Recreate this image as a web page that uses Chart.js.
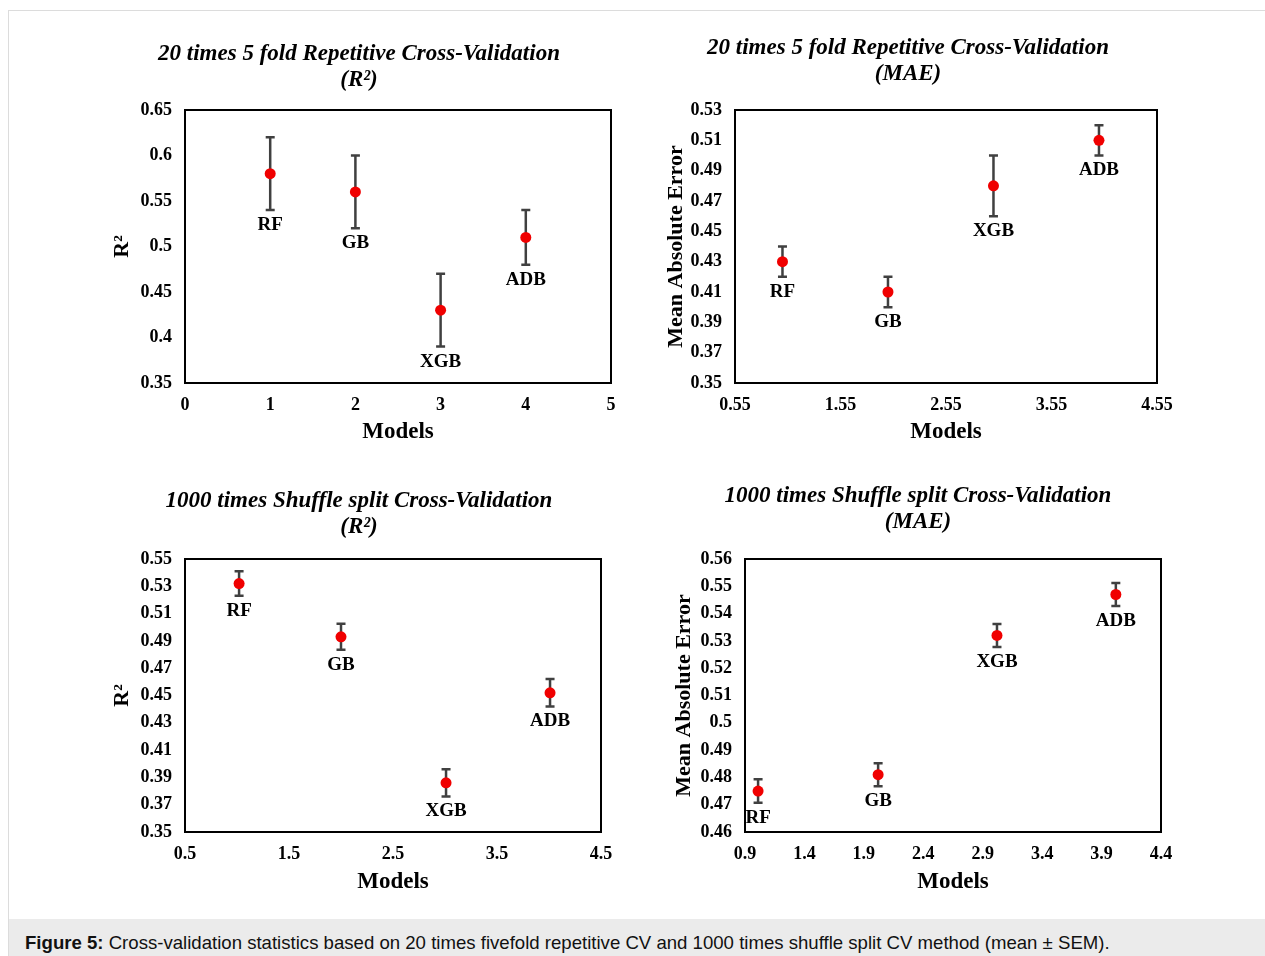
<!DOCTYPE html>
<html lang="en">

<head>
    <title>Figure 5</title>
    <meta charset="utf-8" />
    <script src="https://cdn.jsdelivr.net/npm/chart.js"></script>
    <style>
        body { margin: 0; background: #fff; }
        #page { position: relative; width: 1265px; height: 956px; overflow: hidden; background: #fff; }
        #frame { position: absolute; left: 8px; top: 10px; width: 1257px; height: 946px; box-sizing: border-box;
                 border-top: 1px solid #dcdcdc; border-left: 1px solid #dcdcdc; }
        canvas { position: absolute; }
        #caption { position: absolute; left: 9px; top: 919px; width: 1256px; height: 37px; background: #ebebeb; }
        #caption span { position: absolute; left: 16px; top: 14px; line-height: 20px; white-space: nowrap;
                        font-family: "Liberation Sans", Arial, sans-serif; font-size: 18.6px; color: #111; }
    </style>
</head>

<body>
    <div id="page">
        <div id="frame"></div>
        <canvas id="c1"></canvas>
        <canvas id="c2"></canvas>
        <canvas id="c3"></canvas>
        <canvas id="c4"></canvas>
        <div id="caption"><span><b>Figure 5:</b> Cross-validation statistics based on 20 times fivefold repetitive CV and 1000 times shuffle split CV method (mean ± SEM).</span></div>
    </div>

    <script>
        // data
        const models = ["RF", "GB", "XGB", "ADB"];

        // 20 times 5 fold repetitive CV
        const cvX = [1, 2, 3, 4];
        const cvR2 = [0.58, 0.56, 0.43, 0.51];
        const cvR2Err = [0.04, 0.04, 0.04, 0.03];
        const cvMae = [0.43, 0.41, 0.48, 0.51];
        const cvMaeErr = [0.01, 0.01, 0.02, 0.01];

        // 1000 times shuffle split CV
        const ssR2X = [1.02, 2.0, 3.01, 4.01];
        const ssR2 = [0.532, 0.493, 0.386, 0.452];
        const ssR2Err = [0.009, 0.0095, 0.01, 0.01];
        const ssMaeX = [1.01, 2.02, 3.02, 4.02];
        const ssMae = [0.475, 0.481, 0.532, 0.547];
        const ssMaeErr = [0.0043, 0.0042, 0.0042, 0.0042];

        // tick labels
        const cvR2XTicks = [0, 1, 2, 3, 4, 5];
        const cvR2YTicks = [0.35, 0.4, 0.45, 0.5, 0.55, 0.6, 0.65];
        const cvMaeXTicks = [0.55, 1.55, 2.55, 3.55, 4.55];
        const cvMaeYTicks = [0.35, 0.37, 0.39, 0.41, 0.43, 0.45, 0.47, 0.49, 0.51, 0.53];
        const ssR2XTicks = [0.5, 1.5, 2.5, 3.5, 4.5];
        const ssR2YTicks = [0.35, 0.37, 0.39, 0.41, 0.43, 0.45, 0.47, 0.49, 0.51, 0.53, 0.55];
        const ssMaeXTicks = [0.9, 1.4, 1.9, 2.4, 2.9, 3.4, 3.9, 4.4];
        const ssMaeYTicks = [0.46, 0.47, 0.48, 0.49, 0.5, 0.51, 0.52, 0.53, 0.54, 0.55, 0.56];

        const SERIF = '"Liberation Serif", "Times New Roman", serif';

        // box around the plot area
        const frame = {
            id: 'frame',
            beforeDatasetsDraw(chart) {
                const { ctx, chartArea: a } = chart;
                ctx.save();
                ctx.strokeStyle = '#000';
                ctx.lineWidth = 2;
                ctx.strokeRect(a.left, a.top, a.right - a.left, a.bottom - a.top);
                ctx.restore();
            }
        };

        const errorBars = {
            id: 'errorBars',
            beforeDatasetsDraw(chart) {
                const { ctx, scales: { x, y } } = chart;
                ctx.save();
                ctx.strokeStyle = '#404040';
                ctx.lineWidth = 2.5;
                chart.data.datasets[0].data.forEach(p => {
                    const px = x.getPixelForValue(p.x);
                    const hi = y.getPixelForValue(p.y + p.err);
                    const lo = y.getPixelForValue(p.y - p.err);
                    ctx.beginPath();
                    ctx.moveTo(px, hi); ctx.lineTo(px, lo);
                    ctx.moveTo(px - 4.5, hi); ctx.lineTo(px + 4.5, hi);
                    ctx.moveTo(px - 4.5, lo); ctx.lineTo(px + 4.5, lo);
                    ctx.stroke();
                });
                ctx.restore();
            }
        };

        const pointLabels = {
            id: 'pointLabels',
            afterDatasetsDraw(chart) {
                const { ctx, scales: { x, y } } = chart;
                ctx.save();
                ctx.fillStyle = '#000';
                ctx.font = 'bold 19px ' + SERIF;
                ctx.textAlign = 'center';
                ctx.textBaseline = 'middle';
                chart.data.datasets[0].data.forEach(p => {
                    ctx.fillText(p.label, x.getPixelForValue(p.x), y.getPixelForValue(p.y - p.err) + 15);
                });
                ctx.restore();
            }
        };

        const charts = [
            { id: 'c1', box: [10, 12, 622, 445], plot: [185, 611, 110, 383], titleX: 359, titleY: 54, yTitleX: 122, xTitleY: 432,
              title: ['20 times 5 fold Repetitive Cross-Validation', '(R²)'], yTitle: 'R²',
              xs: cvX, ys: cvR2, errs: cvR2Err, xTicks: cvR2XTicks, yTicks: cvR2YTicks },
            { id: 'c2', box: [640, 12, 620, 445], plot: [735, 1157, 110, 383], titleX: 908, titleY: 48, yTitleX: 676, xTitleY: 432,
              title: ['20 times 5 fold Repetitive Cross-Validation', '(MAE)'], yTitle: 'Mean Absolute Error',
              xs: cvX, ys: cvMae, errs: cvMaeErr, xTicks: cvMaeXTicks, yTicks: cvMaeYTicks },
            { id: 'c3', box: [10, 460, 622, 450], plot: [185, 601, 559, 832], titleX: 359, titleY: 501, yTitleX: 122, xTitleY: 882,
              title: ['1000 times Shuffle split Cross-Validation', '(R²)'], yTitle: 'R²',
              xs: ssR2X, ys: ssR2, errs: ssR2Err, xTicks: ssR2XTicks, yTicks: ssR2YTicks },
            { id: 'c4', box: [640, 460, 620, 450], plot: [745, 1161, 559, 832], titleX: 918, titleY: 496, yTitleX: 684, xTitleY: 882,
              title: ['1000 times Shuffle split Cross-Validation', '(MAE)'], yTitle: 'Mean Absolute Error',
              xs: ssMaeX, ys: ssMae, errs: ssMaeErr, xTicks: ssMaeXTicks, yTicks: ssMaeYTicks }
        ];

        const tickFont = { family: SERIF, size: 18, weight: 'bold' };
        const titleLH = 26;

        charts.forEach(c => {
            const [bx, by, w, h] = c.box;
            const [l, r, t, b] = c.plot;
            const cv = document.getElementById(c.id);
            cv.width = w;
            cv.height = h;
            cv.style.left = bx + 'px';
            cv.style.top = by + 'px';

            // left padding chosen so the title centres where it does in the figure
            const padLeft = 2 * (c.titleX - bx) - (r - bx);
            const padRight = w - (r - bx);
            const titleTop = c.titleY - by - titleLH / 2;

            new Chart(cv, {
                type: 'scatter',
                data: {
                    datasets: [{
                        data: c.xs.map((v, i) => ({ x: v, y: c.ys[i], err: c.errs[i], label: models[i] })),
                        backgroundColor: '#f00000',
                        borderWidth: 0,
                        pointRadius: 5.5,
                        pointHoverRadius: 5.5
                    }]
                },
                options: {
                    responsive: false,
                    animation: false,
                    events: [],
                    layout: { padding: { left: padLeft, right: padRight, top: 0, bottom: 0 } },
                    plugins: {
                        legend: { display: false },
                        tooltip: { enabled: false },
                        title: {
                            display: true,
                            text: c.title,
                            color: '#000',
                            font: { family: SERIF, size: 23, weight: 'bold', style: 'italic', lineHeight: titleLH + 'px' },
                            padding: { top: titleTop, bottom: (t - by) - titleTop - 2 * titleLH }
                        }
                    },
                    scales: {
                        x: {
                            type: 'linear',
                            min: c.xTicks[0],
                            max: c.xTicks[c.xTicks.length - 1],
                            grid: { display: false, drawTicks: false },
                            border: { display: false },
                            afterBuildTicks: s => { s.ticks = c.xTicks.map(v => ({ value: v })); },
                            afterFit: s => { s.height = h - (b - by); },
                            ticks: { autoSkip: false, maxRotation: 0, padding: 12, color: '#000', font: tickFont, callback: v => String(v) },
                            title: { display: true, text: 'Models', color: '#000',
                                     font: { family: SERIF, size: 23, weight: 'bold', lineHeight: 1.2 },
                                     padding: { top: 0, bottom: (h - (c.xTitleY - by)) - 13.8 } }
                        },
                        y: {
                            type: 'linear',
                            min: c.yTicks[0],
                            max: c.yTicks[c.yTicks.length - 1],
                            grid: { display: false, drawTicks: false },
                            border: { display: false },
                            afterBuildTicks: s => { s.ticks = c.yTicks.map(v => ({ value: v })); },
                            afterFit: s => { s.width = (l - bx) - padLeft; },
                            ticks: { autoSkip: false, padding: 13, color: '#000', font: tickFont, callback: v => String(v) },
                            title: { display: true, text: c.yTitle, color: '#000',
                                     font: { family: SERIF, size: 22, weight: 'bold', lineHeight: 1.2 },
                                     padding: { top: (c.yTitleX - bx - padLeft) - 13.2, bottom: 0 } }
                        }
                    }
                },
                plugins: [frame, errorBars, pointLabels]
            });
        });
    </script>
</body>

</html>
